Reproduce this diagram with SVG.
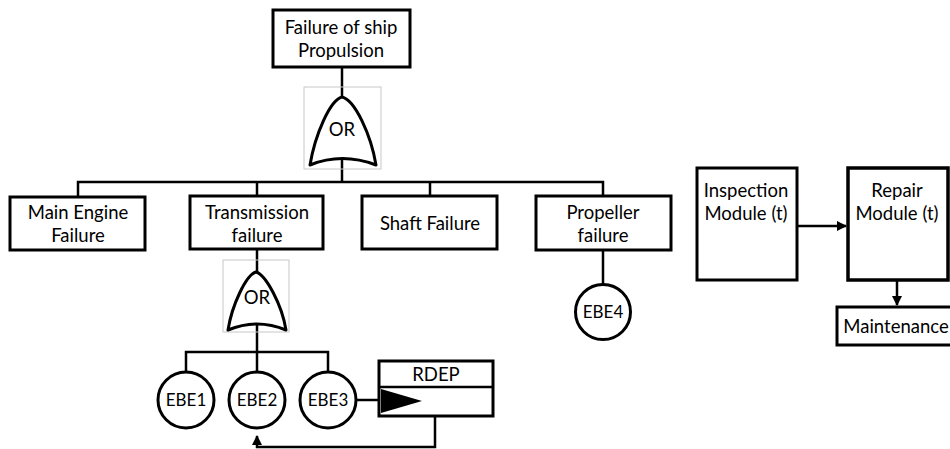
<svg xmlns="http://www.w3.org/2000/svg" width="950" height="449" viewBox="0 0 950 449">
<defs>
<style>
.box{fill:#fff;stroke:#000;stroke-width:3}
.ln{fill:none;stroke:#000;stroke-width:2.5}
.gate{fill:#fff;stroke:#000;stroke-width:3;stroke-linejoin:round}
.frame{fill:none;stroke:#c8c8c8;stroke-width:1}
text{font-family:Lato,"Liberation Sans",Arial,sans-serif;font-size:18.5px;fill:#000;text-anchor:middle}
text.ev{font-size:17px}
</style>
<marker id="ah" viewBox="0 0 10 10" refX="9" refY="5" markerWidth="4" markerHeight="4" orient="auto" markerUnits="strokeWidth">
<path d="M0,0 L10,5 L0,10 z" fill="#000"/>
</marker>
</defs>
<g id="connectors">
<path class="ln" d="M342,67 V98"/>
<path class="ln" d="M342,160 V182"/>
<path class="ln" d="M78,197 V182 H603 V197"/>
<path class="ln" d="M257,182 V197"/>
<path class="ln" d="M430,182 V197"/>
<path class="ln" d="M603,250 V285"/>
<path class="ln" d="M257,249 V273"/>
<path class="ln" d="M257,325 V352"/>
<path class="ln" d="M186,372 V352 H328 V372"/>
<path class="ln" d="M257,352 V372"/>
<path class="ln" d="M356,400 H380"/>
<path class="ln" d="M435,416 V447 H257 V436" marker-end="url(#ah)"/>
<path class="ln" d="M797,226 H846" marker-end="url(#ah)"/>
<path class="ln" d="M897,280 V305" marker-end="url(#ah)"/>
</g>
<g id="top-event">
<rect class="box" x="273" y="10" width="137" height="57"/>
<text x="341" y="34">Failure of ship</text>
<text x="341" y="57">Propulsion</text>
</g>
<g id="or-gate-top">
<rect class="frame" x="304" y="87" width="77" height="82"/>
<path class="gate" d="M342,97 C330,100 315,135 310,165 Q342,152 376,165 C371,135 355,100 342,97 Z"/>
<text x="342" y="136">OR</text>
</g>
<g id="main-engine">
<rect class="box" x="10" y="197" width="135" height="53"/>
<text x="78" y="219">Main Engine</text>
<text x="78" y="242">Failure</text>
</g>
<g id="transmission">
<rect class="box" x="190" y="196" width="133" height="53"/>
<text x="257" y="219">Transmission</text>
<text x="257" y="242">failure</text>
</g>
<g id="shaft">
<rect class="box" x="362" y="196" width="135" height="53"/>
<text x="430" y="230">Shaft Failure</text>
</g>
<g id="propeller">
<rect class="box" x="536" y="196" width="135" height="54"/>
<text x="603" y="219">Propeller</text>
<text x="603" y="242">failure</text>
</g>
<g id="ebe4">
<circle class="box" cx="603" cy="312" r="27.5"/>
<text class="ev" x="603" y="318">EBE4</text>
</g>
<g id="or-gate-trans">
<rect class="frame" x="223" y="260" width="66" height="72"/>
<path class="gate" d="M256,272 C246,275 232,305 228,330 Q257,318 286,330 C282,305 266,275 256,272 Z"/>
<text x="257" y="304">OR</text>
</g>
<g id="ebe1">
<circle class="box" cx="186" cy="400" r="28"/>
<text class="ev" x="186" y="406">EBE1</text>
</g>
<g id="ebe2">
<circle class="box" cx="257" cy="400" r="28"/>
<text class="ev" x="257" y="406">EBE2</text>
</g>
<g id="ebe3">
<circle class="box" cx="328" cy="400" r="28"/>
<text class="ev" x="328" y="406">EBE3</text>
</g>
<g id="rdep">
<rect class="box" x="379" y="361" width="114" height="55"/>
<path class="ln" d="M379,387 H493"/>
<path d="M381,389 L422,401 L381,413 Z" fill="#000"/>
<text x="436" y="381">RDEP</text>
</g>
<g id="inspection">
<rect class="box" x="697" y="168" width="100" height="112"/>
<text x="746" y="197">Inspection</text>
<text x="746" y="220">Module (t)</text>
</g>
<g id="repair">
<rect class="box" x="848" y="168" width="100" height="112" style="stroke-width:3.5"/>
<text x="897" y="197">Repair</text>
<text x="897" y="220">Module (t)</text>
</g>
<g id="maintenance">
<rect class="box" x="837" y="307" width="116" height="38"/>
<text x="896" y="333">Maintenance</text>
</g>
</svg>
